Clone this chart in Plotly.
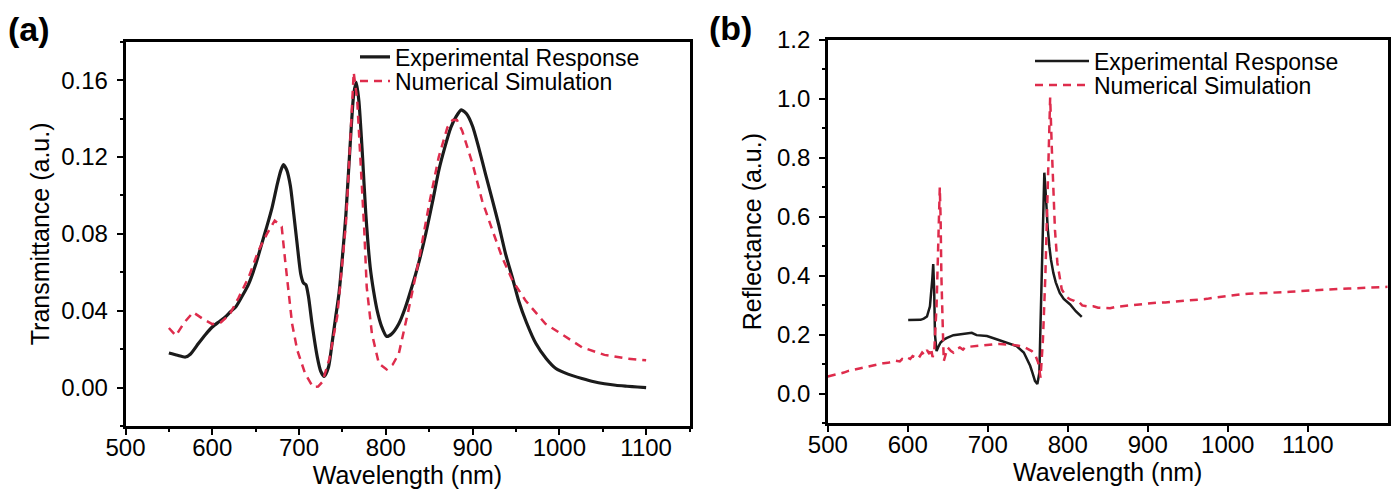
import plotly.graph_objects as go

# ---------------- Panel (a): Transmittance ----------------
a_exp_wl = [550, 560, 569, 575, 584, 592, 600, 607, 615, 621, 627, 635, 642, 650, 657, 663, 669, 675, 679,
            682, 686, 690, 694, 698, 702, 705, 708, 711, 715, 721, 725, 729, 734, 738, 742, 746, 750, 754,
            759, 763, 766, 769, 773, 777, 782, 786, 790, 795, 801, 807, 815, 822, 830, 838, 846, 854, 861,
            868, 875, 881, 887, 893, 900, 907, 915, 923, 930, 938, 946, 953, 962, 973, 985, 996, 1010, 1026,
            1040, 1052, 1065, 1078, 1090, 1100]
a_exp_t = [0.0180, 0.0168, 0.0159, 0.0175, 0.0229, 0.0275, 0.0315, 0.0340, 0.0367, 0.0395, 0.0419, 0.0480,
           0.0540, 0.0640, 0.0748, 0.0840, 0.0938, 0.1060, 0.1129,
           0.1160, 0.1130, 0.1050, 0.0900, 0.0740, 0.0590, 0.0545, 0.0535, 0.0470, 0.0332, 0.0160, 0.0085,
           0.0058, 0.0107, 0.0229, 0.0360, 0.0488, 0.0680, 0.0900, 0.1270, 0.1527, 0.1588, 0.1490, 0.1216,
           0.0900, 0.0627, 0.0500, 0.0402, 0.0320, 0.0266, 0.0280, 0.0332, 0.0410, 0.0523, 0.0650, 0.0800,
           0.0970, 0.1129, 0.1250, 0.1354, 0.1410, 0.1445, 0.1425, 0.1360, 0.1250, 0.1110, 0.0973, 0.0850,
           0.0696, 0.0570, 0.0453, 0.0340, 0.0229, 0.0150, 0.0099, 0.0070, 0.0047, 0.0030, 0.0020, 0.0012,
           0.0007, 0.0003, 0.0000]

a_sim_wl = [550, 558, 568, 578, 590, 600, 610, 620, 630, 642, 653, 663, 672, 680, 684, 688, 692, 698, 707,
            716, 722, 727, 735, 744, 750, 754, 759, 763, 767, 771, 775, 778, 784, 792, 801, 808, 815, 826,
            838, 850, 861, 871, 877, 882, 888, 900, 911, 923, 934, 946, 961, 984, 1000, 1026, 1052, 1078, 1100]
a_sim_t = [0.0310, 0.0270, 0.0340, 0.0392, 0.0355, 0.0330, 0.0340, 0.0380, 0.0465, 0.0575, 0.0710, 0.0800,
           0.0869, 0.0838, 0.0661, 0.0488, 0.0332, 0.0194, 0.0073, 0.0003, 0.0005, 0.0030, 0.0150, 0.0370,
           0.0650, 0.0850, 0.1280, 0.1640, 0.1500, 0.1180, 0.0834, 0.0523, 0.0280, 0.0125, 0.0094, 0.0120,
           0.0177, 0.0400, 0.0661, 0.0956, 0.1200, 0.1354, 0.1392, 0.1392, 0.1337, 0.1164, 0.0973, 0.0817,
           0.0678, 0.0557, 0.0453, 0.0332, 0.0285, 0.0210, 0.0170, 0.0151, 0.0142]

# ---------------- Panel (b): Reflectance ----------------
b_exp_wl = [600.5, 610, 616, 620, 624, 627.7, 629.5, 630.6, 631.8, 633, 634, 635, 636, 638, 641, 645, 649,
            657, 669, 680, 686, 699, 711, 724, 736, 745, 750, 753, 756, 759, 762, 764.5, 766, 767.5, 769,
            770.7, 772, 773.6, 775, 777, 779, 782, 785, 790, 795, 803, 810, 817.5]
b_exp_r = [0.250, 0.250, 0.251, 0.255, 0.262, 0.297, 0.340, 0.387, 0.440, 0.350, 0.200, 0.152, 0.145, 0.158,
           0.174, 0.184, 0.190, 0.199, 0.203, 0.207, 0.199, 0.196, 0.185, 0.174, 0.162, 0.140, 0.115, 0.095,
           0.070, 0.044, 0.033, 0.072, 0.241, 0.410, 0.620, 0.750, 0.700, 0.613, 0.560, 0.500, 0.455, 0.410,
           0.378, 0.3425, 0.322, 0.303, 0.280, 0.261]

b_sim_wl = [500, 505, 510, 515, 520, 525, 530, 535, 540, 545, 550, 555, 560, 565, 570, 575, 580, 585, 590,
            593, 596, 600, 603, 606, 609, 612, 615, 618, 621, 624, 627, 629, 631, 633, 636, 638, 640, 641,
            642, 644, 645, 647, 650, 654, 657, 661, 665, 669, 672, 678, 684, 690, 698, 707, 715, 723, 732,
            740, 746, 751, 755, 759, 763, 766, 769, 772, 775, 778, 780, 782, 784, 787, 792.5, 798, 803, 808,
            811, 815, 818, 824, 832, 838, 845, 853, 860, 868, 878, 890, 900, 911, 922, 932, 943, 953, 964,
            974, 985, 995, 1005, 1016, 1026, 1037, 1047, 1058, 1068, 1078, 1089, 1099, 1110, 1120, 1130,
            1141, 1151, 1162, 1172, 1183, 1192, 1200]
b_sim_r = [0.059, 0.062, 0.066, 0.070, 0.072, 0.077, 0.080, 0.083, 0.086, 0.089, 0.092, 0.096, 0.098, 0.100,
           0.104, 0.105, 0.109, 0.112, 0.110, 0.118, 0.115, 0.122, 0.118, 0.128, 0.124, 0.133, 0.127, 0.140,
           0.132, 0.148, 0.135, 0.155, 0.125, 0.140, 0.300, 0.550, 0.700, 0.600, 0.400, 0.200, 0.111, 0.130,
           0.157, 0.145, 0.140, 0.152, 0.157, 0.150, 0.158, 0.160, 0.162, 0.1645, 0.166, 0.168, 0.169, 0.168,
           0.166, 0.162, 0.158, 0.151, 0.145, 0.134, 0.106, 0.055, 0.185, 0.400, 0.700, 1.005, 0.838, 0.690,
           0.556, 0.444, 0.354, 0.330, 0.320, 0.315, 0.309, 0.309, 0.300, 0.297, 0.297, 0.292, 0.292, 0.290,
           0.295, 0.297, 0.300, 0.305, 0.307, 0.309, 0.310, 0.312, 0.315, 0.3165, 0.319, 0.322, 0.327, 0.331,
           0.334, 0.337, 0.339, 0.340, 0.341, 0.3425, 0.344, 0.346, 0.348, 0.350, 0.352, 0.354, 0.355, 0.356,
           0.357, 0.358, 0.359, 0.360, 0.362, 0.363]

x_ticks = [500, 600, 700, 800, 900, 1000, 1100]
a_yticks = [0.00, 0.04, 0.08, 0.12, 0.16]
b_yticks = [0.0, 0.2, 0.4, 0.6, 0.8, 1.0, 1.2]

BLACK = "#1b1b1b"
RED = "#DE2C4C"
FONT = "Liberation Sans, Arial, sans-serif"
W, H = 1395, 502

fig = go.Figure()
fig.add_trace(go.Scatter(x=a_exp_wl, y=a_exp_t, mode="lines", name="Experimental Response",
                         line=dict(color=BLACK, width=3.2, shape="spline", smoothing=0.6),
                         xaxis="x", yaxis="y", legend="legend"))
fig.add_trace(go.Scatter(x=a_sim_wl, y=a_sim_t, mode="lines", name="Numerical Simulation",
                         line=dict(color=RED, width=2.5, dash="8px,6px"),
                         xaxis="x", yaxis="y", legend="legend2"))
fig.add_trace(go.Scatter(x=b_exp_wl, y=b_exp_r, mode="lines", name="Experimental Response",
                         line=dict(color=BLACK, width=2.5),
                         xaxis="x2", yaxis="y2", legend="legend3"))
fig.add_trace(go.Scatter(x=b_sim_wl, y=b_sim_r, mode="lines", name="Numerical Simulation",
                         line=dict(color=RED, width=2.5, dash="8px,6px"),
                         xaxis="x2", yaxis="y2", legend="legend4"))

def px_x(p):
    return p / W

def px_y(p):
    return 1 - p / H

axis_common = dict(showline=True, linecolor="black", linewidth=2.5, mirror=True, ticks="outside",
                   ticklen=6, tickwidth=2, tickcolor="black", showgrid=False, zeroline=False,
                   automargin=False, tickfont=dict(family=FONT, size=24, color="black"),
                   title_font=dict(family=FONT, size=25, color="black"))

layout = dict(
    width=W, height=H, margin=dict(l=0, r=0, t=0, b=0),
    paper_bgcolor="white", plot_bgcolor="white", showlegend=True,
    font=dict(family=FONT, color="black"),
    xaxis=dict(domain=[px_x(125.5), px_x(689.5)], range=[500, 1150], anchor="y",
               tickvals=x_ticks, minor=dict(dtick=50, tick0=500, ticklen=3, tickwidth=2, ticks="outside"),
               ticklabelstandoff=-8,
               title=dict(text="Wavelength (nm)", standoff=2), **axis_common),
    yaxis=dict(domain=[px_y(426), px_y(41.7)], range=[-0.02, 0.18], anchor="x",
               tickvals=a_yticks, tickformat=".2f",
               minor=dict(dtick=0.02, tick0=0, ticklen=3, tickwidth=2, ticks="outside"),
               ticklabelstandoff=4,
               title=dict(text="Transmittance (a.u.)", standoff=5), **axis_common),
    xaxis2=dict(domain=[px_x(827.8), px_x(1387.7)], range=[500, 1200], anchor="y2",
                tickvals=x_ticks, ticklabelstandoff=-8,
                title=dict(text="Wavelength (nm)", standoff=2), **axis_common),
    yaxis2=dict(domain=[px_y(423.3), px_y(40)], range=[-0.1, 1.2], anchor="x2",
                tickvals=b_yticks, tickformat=".1f",
                minor=dict(dtick=0.1, tick0=0, ticklen=3, tickwidth=2, ticks="outside"),
                ticklabelstandoff=4,
                title=dict(text="Reflectance (a.u.)", standoff=9), **axis_common),
)

leg_font = dict(family=FONT, size=23, color="black")
def leg(xpx, ypx, itemwidth):
    return dict(x=px_x(xpx), y=px_y(ypx), xanchor="left", yanchor="middle", bgcolor="rgba(0,0,0,0)",
                borderwidth=0, font=leg_font, itemwidth=itemwidth, tracegroupgap=0)

layout["legend"] = leg(355, 57, 30)
layout["legend2"] = leg(355, 81, 30)
layout["legend3"] = leg(1030, 61, 54)
layout["legend4"] = leg(1030, 85, 54)

layout["annotations"] = [
    dict(text="<b>(a)</b>", xref="paper", yref="paper", x=px_x(6), y=px_y(29), xanchor="left",
         yanchor="middle", showarrow=False, font=dict(family=FONT, size=34, color="black")),
    dict(text="<b>(b)</b>", xref="paper", yref="paper", x=px_x(707), y=px_y(28), xanchor="left",
         yanchor="middle", showarrow=False, font=dict(family=FONT, size=34, color="black")),
]

fig.update_layout(**layout)
fig.write_html("out.html", config={"displayModeBar": False},
               post_script="document.body.style.margin='0px';")
